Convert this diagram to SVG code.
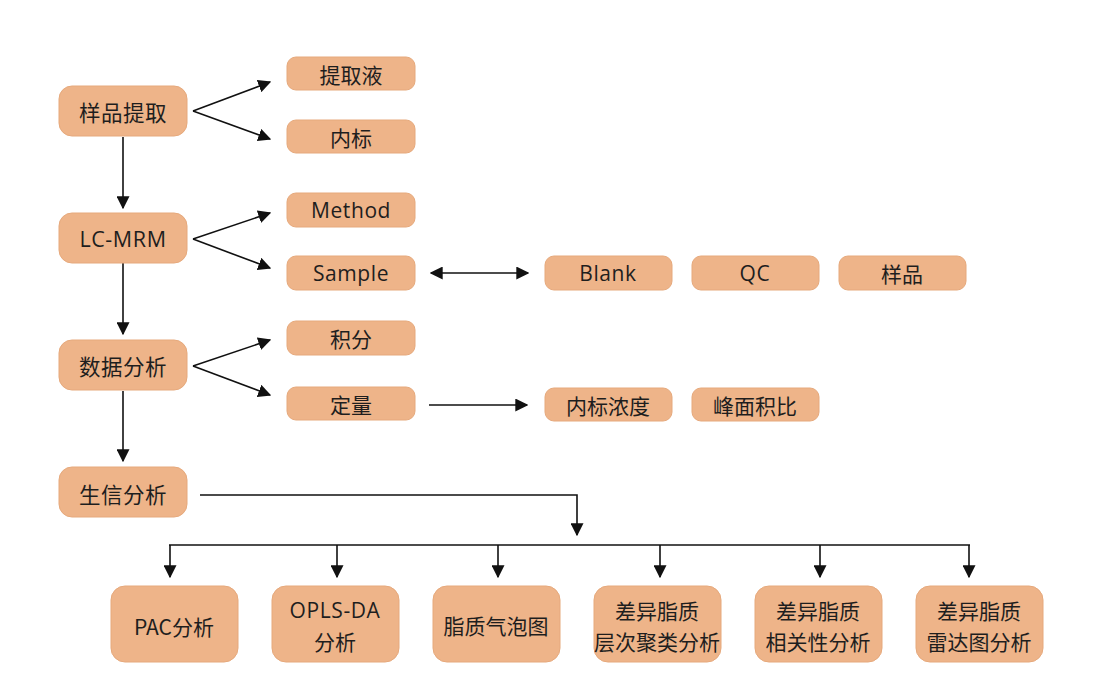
<svg xmlns="http://www.w3.org/2000/svg" width="1100" height="691" viewBox="0 0 1100 691">
<defs>
<style>
.n rect{fill:#EEB489;stroke:#E6A97C;stroke-width:1}
.n text{font-family:"Noto Sans CJK SC","Noto Sans",sans-serif;fill:#1e1e1e;text-anchor:middle;dominant-baseline:central}
.big text{font-size:21.5px;letter-spacing:0.5px}
.sm text{font-size:21px}
.bt text{font-size:21px}
.n text.lat{font-family:"Open Sans","Noto Sans",sans-serif;font-size:21px;letter-spacing:0.6px}
.c line,.c polyline{stroke:#111;stroke-width:1.6;fill:none}
</style>
<marker id="ahb" viewBox="0 0 10 10" refX="9" refY="5" markerWidth="13" markerHeight="13" markerUnits="userSpaceOnUse" orient="auto-start-reverse">
<path d="M0,0 L10,5 L0,10 z" fill="#111"/>
</marker>
</defs>
<rect width="1100" height="691" fill="#fff"/>
<g class="c">
<line x1="193" y1="111" x2="270" y2="82" marker-end="url(#ahb)"/>
<line x1="193" y1="111" x2="270" y2="139" marker-end="url(#ahb)"/>
<line x1="193" y1="239" x2="270" y2="213" marker-end="url(#ahb)"/>
<line x1="193" y1="239" x2="270" y2="268" marker-end="url(#ahb)"/>
<line x1="193" y1="366" x2="270" y2="340" marker-end="url(#ahb)"/>
<line x1="193" y1="366" x2="270" y2="395" marker-end="url(#ahb)"/>
<line x1="123" y1="137" x2="123" y2="208" marker-end="url(#ahb)"/>
<line x1="123" y1="263" x2="123" y2="334" marker-end="url(#ahb)"/>
<line x1="123" y1="391" x2="123" y2="461" marker-end="url(#ahb)"/>
<line x1="431" y1="273" x2="528" y2="273" marker-start="url(#ahb)" marker-end="url(#ahb)"/>
<line x1="429" y1="405" x2="527" y2="405" marker-end="url(#ahb)"/>
<polyline points="200,495 577,495 577,535" marker-end="url(#ahb)"/>
<line x1="169" y1="545" x2="970" y2="545"/>
<line x1="170" y1="545" x2="170" y2="577" marker-end="url(#ahb)"/>
<line x1="337" y1="545" x2="337" y2="577" marker-end="url(#ahb)"/>
<line x1="498" y1="545" x2="498" y2="577" marker-end="url(#ahb)"/>
<line x1="660" y1="545" x2="660" y2="577" marker-end="url(#ahb)"/>
<line x1="820" y1="545" x2="820" y2="577" marker-end="url(#ahb)"/>
<line x1="969" y1="545" x2="969" y2="577" marker-end="url(#ahb)"/>
</g>
<g id="n1" class="n big"><rect x="59" y="86" width="128" height="50" rx="13"/><text x="123" y="111">样品提取</text></g>
<g id="n2" class="n big"><rect x="59" y="213" width="128" height="50" rx="13"/><text class="lat" x="123" y="238" style="font-size:21.5px">LC-MRM</text></g>
<g id="n3" class="n big"><rect x="59" y="340" width="128" height="50" rx="13"/><text x="123" y="365">数据分析</text></g>
<g id="n4" class="n big"><rect x="59" y="467" width="128" height="50" rx="13"/><text x="123" y="493">生信分析</text></g>
<g id="s1" class="n sm"><rect x="287" y="57" width="128" height="33" rx="9"/><text x="351" y="73.5">提取液</text></g>
<g id="s2" class="n sm"><rect x="287" y="120" width="128" height="33" rx="9"/><text x="351" y="136.5">内标</text></g>
<g id="s3" class="n sm"><rect x="287" y="193" width="128" height="34" rx="9"/><text class="lat" x="351" y="210">Method</text></g>
<g id="s4" class="n sm"><rect x="287" y="256" width="128" height="34" rx="9"/><text class="lat" x="351" y="273">Sample</text></g>
<g id="s5" class="n sm"><rect x="287" y="321" width="128" height="34" rx="9"/><text x="351" y="338">积分</text></g>
<g id="s6" class="n sm"><rect x="287" y="387" width="128" height="33" rx="9"/><text x="351" y="403.5">定量</text></g>
<g id="s7" class="n sm"><rect x="545" y="256" width="127" height="34" rx="9"/><text class="lat" x="608" y="273">Blank</text></g>
<g id="s8" class="n sm"><rect x="692" y="256" width="127" height="34" rx="9"/><text class="lat" x="755" y="273">QC</text></g>
<g id="s9" class="n sm"><rect x="839" y="256" width="127" height="34" rx="9"/><text x="902" y="273">样品</text></g>
<g id="s10" class="n sm"><rect x="545" y="388" width="127" height="33" rx="9"/><text x="608" y="404.5">内标浓度</text></g>
<g id="s11" class="n sm"><rect x="692" y="388" width="127" height="33" rx="9"/><text x="755" y="404.5">峰面积比</text></g>
<g id="b1" class="n bt"><rect x="111" y="586" width="127" height="76" rx="14"/><text x="174" y="626">PAC分析</text></g>
<g id="b2" class="n bt"><rect x="272" y="586" width="127" height="76" rx="14"/><text x="335" y="610"><tspan style="font-family:'Open Sans',sans-serif;font-size:21px;letter-spacing:0.6px">OPLS-DA</tspan></text><text x="335" y="641">分析</text></g>
<g id="b3" class="n bt"><rect x="433" y="586" width="127" height="76" rx="14"/><text x="496" y="625">脂质气泡图</text></g>
<g id="b4" class="n bt"><rect x="594" y="586" width="127" height="76" rx="14"/><text x="657" y="610">差异脂质</text><text x="657" y="641">层次聚类分析</text></g>
<g id="b5" class="n bt"><rect x="755" y="586" width="127" height="76" rx="14"/><text x="818" y="610">差异脂质</text><text x="818" y="641">相关性分析</text></g>
<g id="b6" class="n bt"><rect x="916" y="586" width="127" height="76" rx="14"/><text x="979" y="610">差异脂质</text><text x="979" y="641">雷达图分析</text></g>
</svg>
